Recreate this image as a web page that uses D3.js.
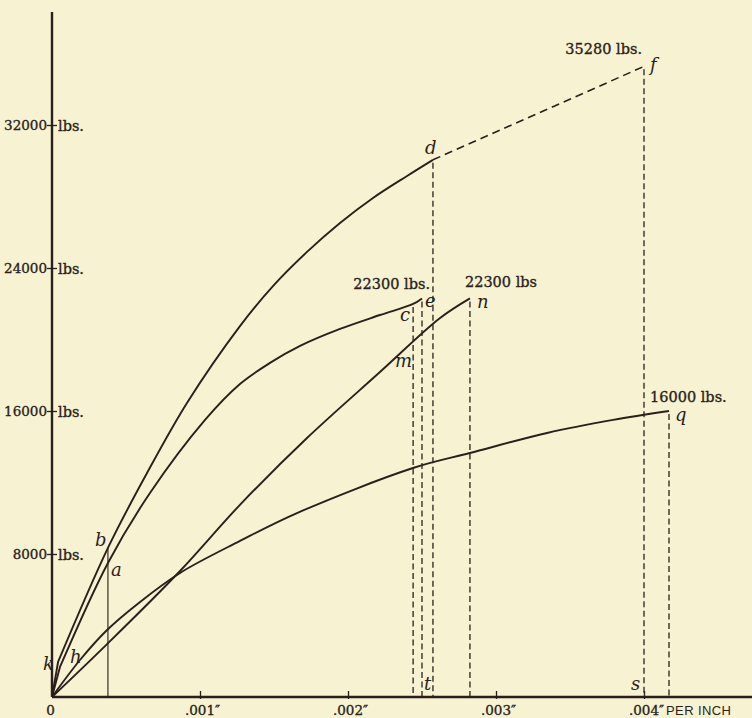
<!DOCTYPE html>
<html>
<head>
<meta charset="utf-8">
<script src="https://cdn.jsdelivr.net/npm/d3@7"></script>
<style>
  html, body { margin: 0; padding: 0; background: #f7f2d1; }
  svg { display: block; }
  .num { font-family: "DejaVu Serif", serif; font-size: 13.5px; fill: #2a1f1c; stroke: #2a1f1c; stroke-width: 0.35px; }
  .note { font-size: 14.5px; }
  .ital { font-family: "DejaVu Serif", serif; font-style: italic; font-size: 18px; fill: #2a1f1c; }
  .sans { font-family: "Liberation Sans", sans-serif; font-size: 13px; fill: #2a1f1c; letter-spacing: 0.4px; }
</style>
</head>
<body>
<svg id="chart" width="752" height="718"></svg>
<script>
// Elongation per inch (x) against load in lbs (y)

// Curve k–b–d (ends at d, continued by broken line to f)
const curveKBD = [
  [0, 0], [0.000041, 1960], [0.000378, 8340], [0.000642, 12530], [0.000912, 16450],
  [0.00127, 20750], [0.001493, 22990], [0.001723, 24900], [0.001946, 26520],
  [0.002169, 27920], [0.002399, 29150], [0.002574, 30050]
];
// Curve h–a–c–e
const curveHACE = [
  [0, 0], [0.000054, 1680], [0.000378, 7500], [0.000662, 11410], [0.001034, 15500],
  [0.00127, 17510], [0.001473, 18690], [0.001676, 19640], [0.001946, 20590],
  [0.002216, 21370], [0.00244, 21990], [0.0025, 22300]
];
// Curve m–n
const curveMN = [
  [0, 0], [0.000372, 2960], [0.000865, 7050], [0.00127, 10750], [0.001723, 14490],
  [0.002216, 18180], [0.002622, 21200], [0.002824, 22300]
];
// Curve to q
const curveQ = [
  [0, 0], [0.000189, 2070], [0.000372, 3750], [0.000595, 5320], [0.000865, 6940],
  [0.00127, 8730], [0.001655, 10290], [0.002439, 12810], [0.002824, 13650],
  [0.003345, 14770], [0.003791, 15500], [0.004169, 16000]
];
// Broken continuation d → f
const breakDF = [[0.002574, 30050], [0.004, 35280]];

// Axis ticks
const loadTicks = [8000, 16000, 24000, 32000];
const loadTickLabels = ["8000", "16000", "24000", "32000"];
const strainTicks = [0, 0.001, 0.002, 0.003, 0.004];
const strainTickLabels = ["0", ".001\u2033", ".002\u2033", ".003\u2033", ".004\u2033"];

const endKBD = curveKBD[curveKBD.length - 1];
const endHACE = curveHACE[curveHACE.length - 1];
const endMN = curveMN[curveMN.length - 1];
const endQ = curveQ[curveQ.length - 1];

// Point letters and load notes
const letters = [
  { t: "k", p: curveKBD[1] }, { t: "b", p: curveKBD[2] }, { t: "d", p: endKBD },
  { t: "f", p: breakDF[1] }, { t: "h", p: curveHACE[1] }, { t: "a", p: curveHACE[2] },
  { t: "c", p: curveHACE[10] }, { t: "e", p: endHACE }, { t: "m", p: curveMN[5] },
  { t: "n", p: endMN }, { t: "q", p: endQ },
  { t: "t", p: [endHACE[0], 0] }, { t: "s", p: [breakDF[1][0], 0] }
];
const loadNotes = [
  { t: "35280 lbs.", p: breakDF[1] },
  { t: "22300 lbs.", p: endHACE },
  { t: "22300 lbs", p: endMN },
  { t: "16000 lbs.", p: endQ }
];

const svg = d3.select("#chart");
const ink = "#2a1f1c";

const x = d3.scaleLinear().domain([0, 0.004]).range([52, 644]);
const y = d3.scaleLinear().domain([0, 32000]).range([697, 125]);

// Axes
svg.append("line").attr("x1", x(0)).attr("x2", 752).attr("y1", y(0)).attr("y2", y(0))
  .attr("stroke", ink).attr("stroke-width", 2.4);
svg.append("line").attr("x1", x(0)).attr("x2", x(0)).attr("y1", 12).attr("y2", y(0))
  .attr("stroke", ink).attr("stroke-width", 2.4);

const yAxis = d3.axisLeft(y).tickValues(loadTicks).tickSize(0).tickFormat("");
const gy = svg.append("g").attr("transform", `translate(${x(0)},0)`).call(yAxis);
gy.select(".domain").remove();
gy.selectAll(".tick").append("line").attr("x1", -5).attr("x2", 5)
  .attr("stroke", ink).attr("stroke-width", 1.3);
gy.selectAll(".tick").append("text").attr("class", "num").attr("x", -5).attr("dy", "0.35em")
  .attr("text-anchor", "end").attr("fill", null).text((d, i) => loadTickLabels[i]);
gy.selectAll(".tick").append("text").attr("class", "num note").attr("x", 6).attr("dy", "0.35em")
  .attr("text-anchor", "start").attr("fill", null).text("lbs.");

const xAxis = d3.axisBottom(x).tickValues(strainTicks).tickSize(0).tickFormat("");
const gx = svg.append("g").attr("transform", `translate(0,${y(0)})`).call(xAxis);
gx.select(".domain").remove();
gx.selectAll(".tick").filter(d => d > 0).append("line").attr("y1", -6).attr("y2", 2)
  .attr("stroke", ink).attr("stroke-width", 1.3);
gx.selectAll(".tick").append("text").attr("class", "num").attr("y", 18)
  .attr("x", d => d === 0 ? -2 : 2).attr("text-anchor", "middle").attr("fill", null)
  .text((d, i) => strainTickLabels[i]);
svg.append("text").attr("class", "sans").attr("x", x(0.004) + 22).attr("y", y(0) + 18)
  .text("PER INCH");

// Vertical drop lines
const dashed = [curveHACE[10], endHACE, endKBD, endMN, breakDF[1], endQ];
svg.selectAll("line.drop").data(dashed).enter().append("line").attr("class", "drop")
  .attr("x1", d => x(d[0])).attr("x2", d => x(d[0]))
  .attr("y1", d => y(d[1]) + 3).attr("y2", y(0))
  .attr("stroke", ink).attr("stroke-width", 1.3).attr("stroke-dasharray", "6,3.5");
svg.append("line").attr("x1", x(curveKBD[2][0])).attr("x2", x(curveKBD[2][0]))
  .attr("y1", y(curveKBD[2][1])).attr("y2", y(0))
  .attr("stroke", ink).attr("stroke-width", 1.1);

// Curves: the two upper curves rise straight to k / h, then bend smoothly
const smooth = d3.line().x(d => x(d[0])).y(d => y(d[1])).curve(d3.curveCatmullRom.alpha(0.5));
function kinked(c) {
  return `M${x(c[0][0])},${y(c[0][1])}L` + smooth(c.slice(1)).slice(1);
}
[curveKBD, curveHACE].forEach(c => {
  svg.append("path").attr("d", kinked(c)).attr("fill", "none")
    .attr("stroke", ink).attr("stroke-width", 1.9).attr("stroke-linejoin", "round");
});
[curveMN, curveQ].forEach(c => {
  svg.append("path").datum(c).attr("d", smooth).attr("fill", "none")
    .attr("stroke", ink).attr("stroke-width", 1.9).attr("stroke-linejoin", "round");
});
svg.append("path").datum(breakDF).attr("d", d3.line().x(d => x(d[0])).y(d => y(d[1])))
  .attr("fill", "none").attr("stroke", ink).attr("stroke-width", 1.6).attr("stroke-dasharray", "8,5");

// Letter labels
const letterOffset = {
  k: [-15, 8], b: [-13, -2], d: [-8, -6], f: [6, 5], h: [10, -4], a: [3, 13],
  c: [-13, 17], e: [3, 9], m: [15, -5], n: [7, 10], q: [6, 10], t: [2, -7], s: [-13, -7]
};
svg.selectAll("text.letter").data(letters).enter().append("text").attr("class", "ital letter")
  .attr("x", d => x(d.p[0]) + letterOffset[d.t][0])
  .attr("y", d => y(d.p[1]) + letterOffset[d.t][1])
  .text(d => d.t);

// Load notes
const noteOffset = [[-2, -12, "end"], [8, -9, "end"], [-5, -11, "start"], [-19, -9, "start"]];
svg.selectAll("text.loadnote").data(loadNotes).enter().append("text").attr("class", "num note loadnote")
  .attr("x", (d, i) => x(d.p[0]) + noteOffset[i][0])
  .attr("y", (d, i) => y(d.p[1]) + noteOffset[i][1])
  .attr("text-anchor", (d, i) => noteOffset[i][2])
  .text(d => d.t);
</script>
</body>
</html>
